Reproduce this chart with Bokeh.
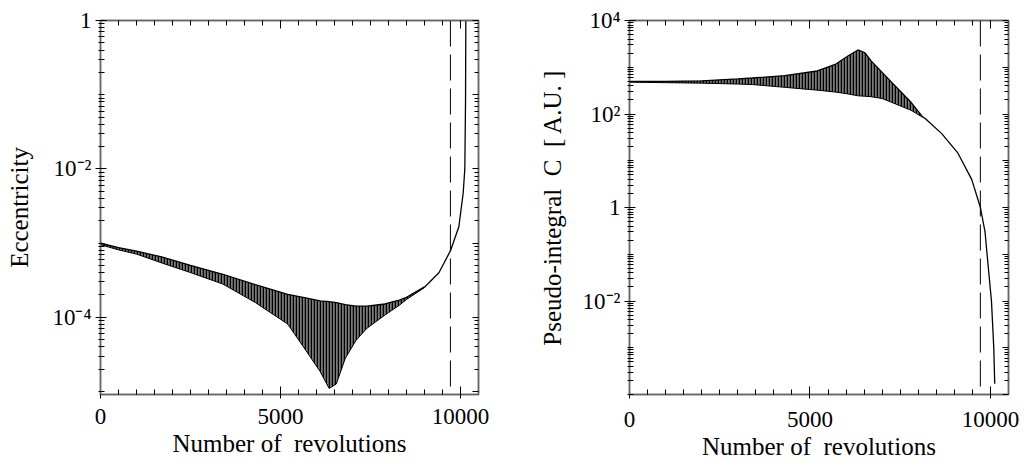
from bokeh.plotting import figure
from bokeh.layouts import row
from bokeh.models import FixedTicker, LinearAxis, Span, Range1d
from bokeh.embed import file_html
from bokeh.resources import INLINE

# ---------------- data ----------------
# Left panel: eccentricity, oscillating band (upper / lower envelope)
ecc_x = [0, 500, 1000, 1700, 2500, 3400, 4300, 5200, 5700, 6100, 6350, 6550,
         6800, 7100, 7400, 7900, 8300, 8500, 9000]
ecc_upper = [1.00e-3, 8.7e-4, 7.8e-4, 6.5e-4, 5.0e-4, 3.8e-4, 2.75e-4, 2.04e-4,
             1.82e-4, 1.66e-4, 1.62e-4, 1.58e-4, 1.48e-4, 1.41e-4, 1.41e-4,
             1.51e-4, 1.70e-4, 1.86e-4, 2.57e-4]
ecc_lower = [9.5e-4, 8.1e-4, 7.1e-4, 5.4e-4, 4.0e-4, 2.8e-4, 1.58e-4, 8.1e-5,
             3.6e-5, 1.86e-5, 1.10e-5, 1.26e-5, 2.8e-5, 4.9e-5, 7.1e-5,
             1.07e-4, 1.45e-4, 1.74e-4, 2.51e-4]
# Left panel: single curve after the oscillations die out
ecc_tail_x = [9000, 9400, 9722, 9954, 10074, 10120, 10140, 10148]
ecc_tail_y = [2.54e-4, 3.98e-4, 7.9e-4, 1.66e-3, 4.7e-3, 1.0e-2, 8.5e-2, 1.0]

# Right panel: pseudo-integral C
c_x = [0, 1000, 2000, 3000, 3400, 4300, 5200, 5700, 6050, 6330, 6520, 6700,
       7000, 7260, 7800, 8100]
c_upper = [501, 501, 513, 562, 589, 661, 832, 1148, 1738, 2344, 2042, 1349,
           776, 479, 178, 91]
c_lower = [479, 468, 457, 437, 427, 372, 324, 295, 269, 245, 240, 234,
           214, 178, 120, 87]
c_tail_x = [8100, 8200, 8650, 9100, 9480, 9722, 9850, 9906, 10028, 10092, 10119]
c_tail_y = [89, 79, 38, 14.5, 4.0, 1.0, 0.3, 0.1, 0.01, 1.0e-3, 1.7e-4]

# vertical dashed marker
marker_x = 9720

# ticks and tick labels
x_major = [0, 5000, 10000]
x_minor = [500 * i for i in range(0, 22)]
ecc_decades = [1e-5, 1e-4, 1e-3, 1e-2, 1e-1, 1.0]
ecc_labeled = [1e-4, 1e-2, 1.0]
ecc_labels = {1e-4: "10\u207b\u2074", 1e-2: "10\u207b\u00b2", 1.0: "1"}
c_decades = [1e-4, 1e-3, 1e-2, 1e-1, 1.0, 1e1, 1e2, 1e3, 1e4]
c_labeled = [1e-2, 1.0, 1e2, 1e4]
c_labels = {1e4: "10\u2074", 1e2: "10\u00b2", 1.0: "1", 1e-2: "10\u207b\u00b2"}

x_title = "Number of\u00a0 revolutions"
ecc_title = "Eccentricity"
c_title = "Pseudo-integral\u00a0 C\u00a0 [ A.U. ]"

FONT = "Liberation Serif"


def minor_log(decades, labeled):
    out = []
    for d in decades:
        if d not in labeled:
            out.append(d)
        for m in range(2, 10):
            out.append(m * d)
    return out


def style_axis(ax, visible_labels=True):
    ax.axis_line_color = "#666666"
    ax.axis_line_width = 1.5
    ax.major_tick_line_color = "black"
    ax.minor_tick_line_color = "black"
    ax.major_tick_line_width = 1
    ax.minor_tick_line_width = 1
    ax.major_label_text_font = FONT
    ax.major_label_text_color = "black"
    ax.major_label_text_line_height = 1.0
    if visible_labels:
        ax.major_label_text_font_size = "23px"
    else:
        ax.major_label_text_font_size = "2px"
        ax.major_label_text_alpha = 0.0
    ax.axis_label_text_font = FONT
    ax.axis_label_text_font_size = "25px"
    ax.axis_label_text_font_style = "normal"
    ax.axis_label_text_color = "black"
    ax.axis_label_text_line_height = 1.0


def make_panel(w, xs, up, lo, tx, ty, yr, decades, labeled, labels, ylabel,
               borders, ylab_standoff, xlab_standoffs):
    bl, br, bt, bb = borders
    p = figure(width=w, height=467, x_range=Range1d(0, 10500),
               y_range=Range1d(*yr), y_axis_type="log",
               output_backend="svg", toolbar_location=None,
               min_border_left=bl, min_border_right=br,
               min_border_top=bt, min_border_bottom=bb)
    p.grid.visible = False
    p.outline_line_color = "#666666"
    p.outline_line_width = 1.5
    p.background_fill_color = "white"
    p.border_fill_color = "white"

    xt = FixedTicker(ticks=x_major, minor_ticks=x_minor)
    yt = FixedTicker(ticks=labeled, minor_ticks=minor_log(decades, labeled))
    yt_all = FixedTicker(ticks=decades, minor_ticks=minor_log(decades, decades))

    xa = p.xaxis[0]
    xa.ticker = xt
    xa.axis_label = x_title
    style_axis(xa)
    xa.major_tick_in, xa.major_tick_out = 8, 4
    xa.minor_tick_in, xa.minor_tick_out = 5, 0
    xa.major_label_standoff = xlab_standoffs[0]
    xa.axis_label_standoff = xlab_standoffs[1]

    ya = p.yaxis[0]
    ya.ticker = yt
    ya.axis_label = ylabel
    ya.major_label_overrides = labels
    style_axis(ya)
    ya.major_tick_in, ya.major_tick_out = 6, 5
    ya.minor_tick_in, ya.minor_tick_out = 4, 2
    ya.major_label_standoff = 4
    ya.axis_label_standoff = ylab_standoff

    top = LinearAxis(ticker=xt)
    style_axis(top, visible_labels=False)
    top.major_tick_in, top.major_tick_out = 8, 0
    top.minor_tick_in, top.minor_tick_out = 5, 0
    top.major_label_standoff = 0
    p.add_layout(top, "above")

    right = LinearAxis(ticker=yt_all)
    style_axis(right, visible_labels=False)
    right.major_tick_in, right.major_tick_out = 6, 0
    right.minor_tick_in, right.minor_tick_out = 4, 0
    right.major_label_standoff = 0
    p.add_layout(right, "right")

    # oscillation band
    p.varea(x=xs, y1=lo, y2=up, fill_color="#222222", fill_alpha=0.6,
            hatch_pattern="|", hatch_scale=3, hatch_weight=1.5,
            hatch_color="black")
    p.line(xs, up, line_color="black", line_width=1.3)
    p.line(xs, lo, line_color="black", line_width=1.0)
    p.line(tx, ty, line_color="black", line_width=1.3)

    p.add_layout(Span(location=marker_x, dimension="height",
                      line_color="black", line_width=1,
                      line_dash="26 8"))
    return p


left = make_panel(512, ecc_x, ecc_upper, ecc_lower, ecc_tail_x, ecc_tail_y,
                  (9.1e-6, 1.0), ecc_decades, ecc_labeled, ecc_labels,
                  ecc_title, (100, 34, 20, 69), 16, (10, 3))
right = make_panel(512, c_x, c_upper, c_lower, c_tail_x, c_tail_y,
                   (1e-4, 1e4), c_decades, c_labeled, c_labels,
                   c_title, (117, 16, 16, 73), 14, (13, 3))

layout = row(left, right)
open("out.html", "w").write(file_html(layout, INLINE))
